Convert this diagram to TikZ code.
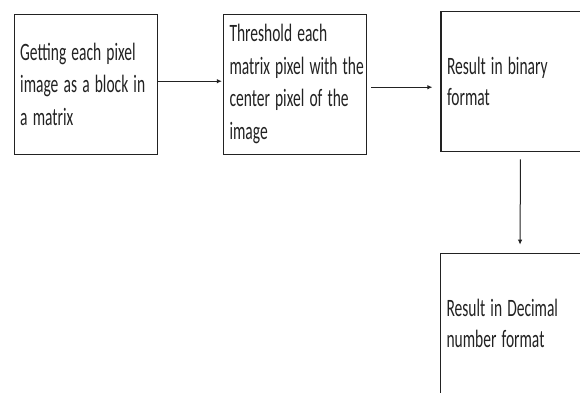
\documentclass[tikz,border=0pt]{standalone}
\usepackage{fontspec}
\usepackage{graphicx}
\setmainfont{Carlito}
\usetikzlibrary{arrows.meta}
\definecolor{ink}{HTML}{222222}
\newcommand{\nrw}[1]{\scalebox{0.62}[1]{#1}}
\begin{document}
\begin{tikzpicture}[x=1pt,y=-1pt,
  stepbox/.style={draw=ink,line width=1.2pt,rectangle,minimum width=143pt,minimum height=140pt,
    text width=131pt,inner xsep=6pt,inner ysep=0pt,align=left,anchor=center,
    font=\fontsize{25pt}{32.5pt}\selectfont,text=ink},
  flow/.style={draw=ink,line width=1pt,-{Latex[length=5pt,width=4.5pt]}}]
\clip (0,0) rectangle (580,392);
\node[stepbox] (b1) at (85.7,84.2) {\nrw{Getting each pixel}\\\nrw{image as a block in}\\\nrw{a matrix}};
\node[stepbox] (b2) at (295,84.2) {\nrw{Threshold each}\\\nrw{matrix pixel with the}\\\nrw{center pixel of the}\\\nrw{image}};
\node[stepbox,font=\fontsize{25pt}{31pt}\selectfont] (b3) at (512.5,81.8) {\nrw{Result in binary}\\\nrw{format}};
\node[stepbox,font=\fontsize{25pt}{31pt}\selectfont] (b4) at (512,323.3) {\nrw{Result in Decimal}\\\nrw{number format}};
\draw[flow,shorten >=1pt] ([yshift=3pt]b1.east) -- ([yshift=3pt]b2.west);
\draw[flow,shorten <=4pt,shorten >=8pt] ([yshift=-3pt]b2.east) -- ([yshift=-3pt]b2.east -| b3.west);
\draw[flow,shorten <=7pt,shorten >=8pt] ([xshift=8pt]b3.south) -- ([xshift=8pt]b4.north);
\end{tikzpicture}
\end{document}
